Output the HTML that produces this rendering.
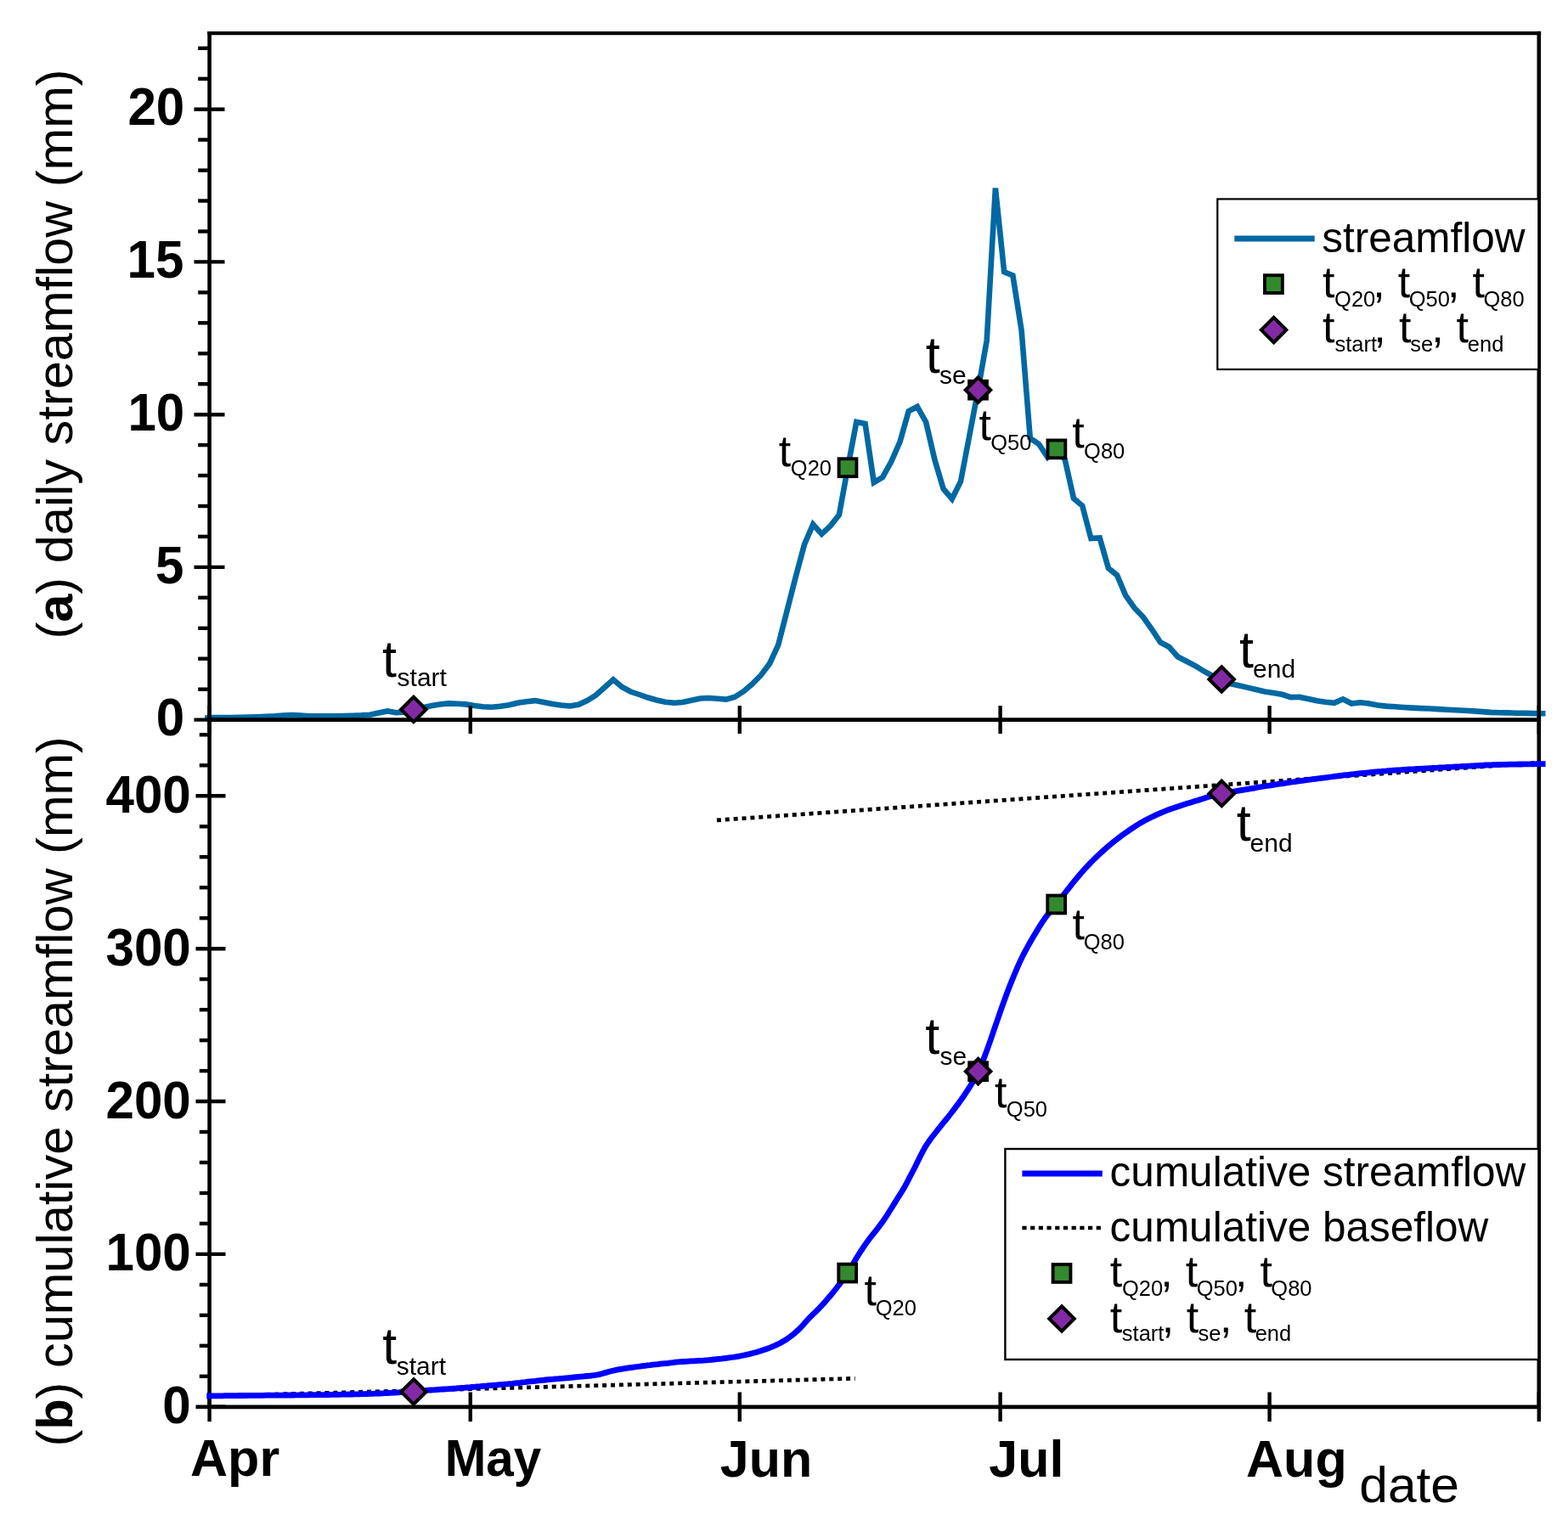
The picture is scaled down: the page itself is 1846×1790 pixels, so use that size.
<!DOCTYPE html>
<html><head><meta charset="utf-8"><title>streamflow</title>
<style>html,body{margin:0;padding:0;background:#fff;overflow:hidden;}svg{display:block;}</style>
</head><body>
<svg width="1846" height="1790" viewBox="0 0 1846 1790" font-family='"Liberation Sans", Arial, Helvetica, sans-serif'>
<rect width="1846" height="1790" fill="#fff"/>
<line x1="1811.8" y1="36.800000000000004" x2="1811.8" y2="1659.1" stroke="#000" stroke-width="4.6"/>
<polyline points="241.2,845.5 241.4,845.5 251.6,845.0 261.8,845.0 272.1,845.0 282.3,844.8 292.5,844.6 302.7,844.3 313.0,843.8 323.2,843.3 333.4,842.5 343.6,842.0 353.9,842.5 364.1,843.3 374.3,843.4 384.5,843.4 394.8,843.3 405.0,843.0 415.2,842.7 425.4,842.4 435.7,841.8 445.9,839.5 456.1,837.4 466.3,839.2 476.6,838.5 486.8,835.5 497.0,833.5 507.2,831.2 517.5,829.4 527.7,828.4 537.9,828.7 548.2,829.4 558.4,831.0 568.6,832.2 578.8,832.8 589.1,831.8 599.3,830.2 609.5,827.7 619.7,826.3 630.0,825.1 640.2,827.0 650.4,829.0 660.6,830.5 670.9,831.5 681.1,829.7 691.3,825.0 701.5,818.7 711.8,809.5 722.0,800.3 732.2,809.0 742.4,814.5 752.7,818.0 762.9,821.5 773.1,824.5 783.4,826.7 793.6,827.7 803.8,827.0 814.0,824.8 824.3,822.5 834.5,822.0 844.7,822.7 854.9,823.6 865.2,820.7 875.4,814.2 885.6,805.5 895.8,795.2 906.1,781.5 916.3,759.3 926.5,719.4 936.7,679.6 947.0,641.1 957.2,617.5 967.4,628.9 977.6,619.3 987.9,606.4 998.1,550.6 1008.3,496.9 1018.6,499.0 1028.8,568.1 1039.0,562.2 1049.2,543.8 1059.5,520.3 1069.7,484.3 1079.9,478.9 1090.1,496.9 1100.4,541.3 1110.6,575.6 1120.8,587.5 1131.0,567.0 1141.3,513.0 1151.5,459.2 1161.7,401.0 1171.9,221.5 1182.2,320.3 1192.4,324.4 1202.6,389.0 1212.8,516.0 1223.1,523.0 1233.3,538.5 1243.5,528.9 1253.7,541.0 1264.0,587.0 1274.2,595.5 1284.4,634.0 1294.7,633.5 1304.9,669.0 1315.1,677.4 1325.3,701.5 1335.6,716.0 1345.8,726.5 1356.0,741.0 1366.2,756.5 1376.5,762.0 1386.7,773.5 1396.9,778.7 1407.1,784.0 1417.4,790.5 1427.6,796.0 1437.8,800.0 1448.0,805.0 1458.3,807.3 1468.5,809.6 1478.7,812.0 1488.9,814.5 1499.2,816.0 1509.4,817.8 1519.6,821.1 1529.8,820.9 1540.1,823.0 1550.3,825.3 1560.5,826.7 1570.8,827.8 1581.0,823.3 1591.2,828.5 1601.4,827.3 1611.7,828.5 1621.9,830.5 1632.1,831.6 1642.3,832.3 1652.6,833.0 1662.8,833.6 1673.0,834.1 1683.2,834.5 1693.5,835.1 1703.7,835.7 1713.9,836.3 1724.1,836.8 1734.4,837.4 1744.6,838.1 1754.8,838.9 1765.0,839.2 1775.3,839.4 1785.5,839.7 1795.7,839.9 1806.0,840.1 1816.2,840.3 1819.5,840.3" fill="none" stroke="#0068a2" stroke-width="6.6" stroke-linejoin="miter" stroke-miterlimit="4"/>
<line x1="246.6" y1="37.0" x2="246.6" y2="1659.1" stroke="#000" stroke-width="4.6"/>
<line x1="244.29999999999998" y1="39.1" x2="1814.1" y2="39.1" stroke="#000" stroke-width="4.2"/>
<line x1="244.29999999999998" y1="847.6" x2="1814.1" y2="847.6" stroke="#000" stroke-width="4.7"/>
<line x1="244.29999999999998" y1="1656.8" x2="1814.1" y2="1656.8" stroke="#000" stroke-width="4.7"/>
<g stroke="#000" stroke-width="4.4"><line x1="228.5" y1="847.6" x2="264.5" y2="847.6"/><line x1="233.2" y1="811.7" x2="246.6" y2="811.7"/><line x1="233.2" y1="775.7" x2="246.6" y2="775.7"/><line x1="233.2" y1="739.8" x2="246.6" y2="739.8"/><line x1="233.2" y1="703.8" x2="246.6" y2="703.8"/><line x1="228.5" y1="667.9" x2="264.5" y2="667.9"/><line x1="233.2" y1="631.9" x2="246.6" y2="631.9"/><line x1="233.2" y1="596.0" x2="246.6" y2="596.0"/><line x1="233.2" y1="560.0" x2="246.6" y2="560.0"/><line x1="233.2" y1="524.1" x2="246.6" y2="524.1"/><line x1="228.5" y1="488.2" x2="264.5" y2="488.2"/><line x1="233.2" y1="452.2" x2="246.6" y2="452.2"/><line x1="233.2" y1="416.3" x2="246.6" y2="416.3"/><line x1="233.2" y1="380.3" x2="246.6" y2="380.3"/><line x1="233.2" y1="344.4" x2="246.6" y2="344.4"/><line x1="228.5" y1="308.4" x2="264.5" y2="308.4"/><line x1="233.2" y1="272.5" x2="246.6" y2="272.5"/><line x1="233.2" y1="236.5" x2="246.6" y2="236.5"/><line x1="233.2" y1="200.6" x2="246.6" y2="200.6"/><line x1="233.2" y1="164.6" x2="246.6" y2="164.6"/><line x1="228.5" y1="128.7" x2="264.5" y2="128.7"/><line x1="233.2" y1="92.8" x2="246.6" y2="92.8"/><line x1="233.2" y1="56.8" x2="246.6" y2="56.8"/><line x1="230.5" y1="1656.8" x2="265.5" y2="1656.8"/><line x1="234.8" y1="1620.8" x2="246.6" y2="1620.8"/><line x1="234.8" y1="1584.8" x2="246.6" y2="1584.8"/><line x1="234.8" y1="1548.9" x2="246.6" y2="1548.9"/><line x1="234.8" y1="1512.9" x2="246.6" y2="1512.9"/><line x1="230.5" y1="1476.9" x2="265.5" y2="1476.9"/><line x1="234.8" y1="1440.9" x2="246.6" y2="1440.9"/><line x1="234.8" y1="1405.0" x2="246.6" y2="1405.0"/><line x1="234.8" y1="1369.0" x2="246.6" y2="1369.0"/><line x1="234.8" y1="1333.0" x2="246.6" y2="1333.0"/><line x1="230.5" y1="1297.0" x2="265.5" y2="1297.0"/><line x1="234.8" y1="1261.1" x2="246.6" y2="1261.1"/><line x1="234.8" y1="1225.1" x2="246.6" y2="1225.1"/><line x1="234.8" y1="1189.1" x2="246.6" y2="1189.1"/><line x1="234.8" y1="1153.1" x2="246.6" y2="1153.1"/><line x1="230.5" y1="1117.2" x2="265.5" y2="1117.2"/><line x1="234.8" y1="1081.2" x2="246.6" y2="1081.2"/><line x1="234.8" y1="1045.2" x2="246.6" y2="1045.2"/><line x1="234.8" y1="1009.2" x2="246.6" y2="1009.2"/><line x1="234.8" y1="973.3" x2="246.6" y2="973.3"/><line x1="230.5" y1="937.3" x2="265.5" y2="937.3"/><line x1="234.8" y1="901.3" x2="246.6" y2="901.3"/><line x1="234.8" y1="865.3" x2="246.6" y2="865.3"/><line x1="246.6" y1="831.1" x2="246.6" y2="864.1"/><line x1="246.6" y1="1639.5" x2="246.6" y2="1674.1"/><line x1="553.8" y1="831.1" x2="553.8" y2="864.1"/><line x1="553.8" y1="1639.5" x2="553.8" y2="1674.1"/><line x1="870.8" y1="831.1" x2="870.8" y2="864.1"/><line x1="870.8" y1="1639.5" x2="870.8" y2="1674.1"/><line x1="1177.6" y1="831.1" x2="1177.6" y2="864.1"/><line x1="1177.6" y1="1639.5" x2="1177.6" y2="1674.1"/><line x1="1494.6" y1="831.1" x2="1494.6" y2="864.1"/><line x1="1494.6" y1="1639.5" x2="1494.6" y2="1674.1"/><line x1="1811.8" y1="831.1" x2="1811.8" y2="864.1"/><line x1="1811.8" y1="1639.5" x2="1811.8" y2="1674.1"/></g>
<line x1="244" y1="1644.2" x2="1006.7" y2="1623.3" stroke="#000" stroke-width="4.7" stroke-dasharray="5 4.9"/>
<line x1="843.9" y1="965.9" x2="1812" y2="898.2" stroke="#000" stroke-width="4.7" stroke-dasharray="5 4.9"/>
<polyline points="243.3,1644.0 246.3,1644.0 249.3,1643.9 252.3,1643.9 255.3,1643.9 258.3,1643.8 261.3,1643.8 264.3,1643.7 267.3,1643.7 270.3,1643.7 273.3,1643.6 276.3,1643.6 279.3,1643.6 282.3,1643.5 285.3,1643.5 288.3,1643.5 291.3,1643.4 294.3,1643.4 297.3,1643.4 300.3,1643.3 303.3,1643.3 306.3,1643.3 309.3,1643.3 312.3,1643.2 315.3,1643.2 318.3,1643.2 321.3,1643.2 324.3,1643.1 327.3,1643.1 330.3,1643.1 333.3,1643.1 336.3,1643.0 339.3,1643.0 342.3,1643.0 345.3,1643.0 348.3,1642.9 351.3,1642.9 354.3,1642.9 357.3,1642.8 360.3,1642.8 363.3,1642.8 366.3,1642.7 369.3,1642.7 372.3,1642.7 375.3,1642.6 378.3,1642.6 381.3,1642.6 384.3,1642.5 387.3,1642.5 390.3,1642.4 393.3,1642.4 396.3,1642.3 399.3,1642.3 402.3,1642.2 405.3,1642.2 408.3,1642.1 411.3,1642.0 414.3,1642.0 417.3,1641.9 420.3,1641.8 423.3,1641.8 426.3,1641.7 429.3,1641.6 432.3,1641.5 435.3,1641.4 438.3,1641.3 441.3,1641.2 444.3,1641.1 447.3,1641.0 450.3,1640.8 453.3,1640.7 456.3,1640.5 459.3,1640.4 462.3,1640.2 465.3,1640.1 468.3,1639.9 471.3,1639.7 474.3,1639.5 477.3,1639.3 480.3,1639.1 483.3,1638.9 486.3,1638.7 489.3,1638.5 492.3,1638.3 495.3,1638.0 498.3,1637.7 501.3,1637.5 504.3,1637.2 507.3,1637.0 510.3,1636.8 513.3,1636.6 516.3,1636.4 519.3,1636.2 522.3,1636.0 525.3,1635.8 528.3,1635.6 531.3,1635.4 534.3,1635.2 537.3,1635.0 540.3,1634.7 543.3,1634.5 546.3,1634.3 549.3,1634.0 552.3,1633.8 555.3,1633.5 558.3,1633.3 561.3,1633.0 564.3,1632.8 567.3,1632.5 570.3,1632.2 573.3,1632.0 576.3,1631.7 579.3,1631.5 582.3,1631.2 585.3,1631.0 588.3,1630.7 591.3,1630.4 594.3,1630.1 597.3,1629.9 600.3,1629.6 603.3,1629.3 606.3,1628.9 609.3,1628.6 612.3,1628.3 615.3,1627.9 618.3,1627.6 621.3,1627.2 624.3,1626.9 627.3,1626.6 630.3,1626.3 633.3,1625.9 636.3,1625.6 639.3,1625.3 642.3,1625.0 645.3,1624.7 648.3,1624.4 651.3,1624.2 654.3,1623.9 657.3,1623.7 660.3,1623.4 663.3,1623.2 666.3,1622.9 669.3,1622.6 672.3,1622.3 675.3,1622.0 678.3,1621.7 681.3,1621.4 684.3,1621.1 687.3,1620.8 690.3,1620.5 693.3,1620.3 696.3,1620.0 699.3,1619.6 702.3,1619.2 705.3,1618.6 708.3,1617.8 711.3,1616.9 714.3,1616.1 717.3,1615.3 720.3,1614.5 723.3,1613.8 726.3,1613.2 729.3,1612.6 732.3,1612.1 735.3,1611.6 738.3,1611.2 741.3,1610.7 744.3,1610.3 747.3,1609.9 750.3,1609.5 753.3,1609.1 756.3,1608.7 759.3,1608.3 762.3,1607.9 765.3,1607.6 768.3,1607.2 771.3,1606.9 774.3,1606.6 777.3,1606.2 780.3,1605.9 783.3,1605.6 786.3,1605.3 789.3,1604.9 792.3,1604.6 795.3,1604.2 798.3,1603.9 801.3,1603.7 804.3,1603.5 807.3,1603.3 810.3,1603.1 813.3,1602.9 816.3,1602.8 819.3,1602.6 822.3,1602.4 825.3,1602.3 828.3,1602.1 831.3,1601.8 834.3,1601.6 837.3,1601.3 840.3,1601.0 843.3,1600.7 846.3,1600.4 849.3,1600.1 852.3,1599.7 855.3,1599.3 858.3,1598.9 861.3,1598.5 864.3,1598.1 867.3,1597.6 870.3,1597.1 873.3,1596.5 876.3,1595.9 879.3,1595.2 882.3,1594.6 885.3,1593.8 888.3,1593.0 891.3,1592.2 894.3,1591.3 897.3,1590.3 900.3,1589.3 903.3,1588.2 906.3,1587.1 909.3,1585.9 912.3,1584.6 915.3,1583.2 918.3,1581.7 921.3,1580.0 924.3,1578.3 927.3,1576.3 930.3,1574.2 933.3,1571.8 936.3,1569.3 939.3,1566.6 942.3,1563.8 945.3,1560.5 948.3,1557.1 951.3,1553.7 954.3,1550.6 957.3,1547.6 960.3,1544.7 963.3,1541.8 966.3,1538.7 969.3,1535.4 972.3,1532.0 975.3,1528.5 978.3,1525.0 981.3,1521.3 984.3,1517.5 987.3,1513.7 990.3,1509.7 993.3,1505.6 996.3,1501.3 999.3,1496.7 1002.3,1491.8 1005.3,1486.6 1008.3,1481.5 1011.3,1476.7 1014.3,1472.1 1017.3,1467.6 1020.3,1463.3 1023.3,1459.2 1026.3,1455.4 1029.3,1451.6 1032.3,1447.8 1035.3,1443.9 1038.3,1439.9 1041.3,1435.6 1044.3,1431.1 1047.3,1426.3 1050.3,1421.5 1053.3,1416.6 1056.3,1411.8 1059.3,1407.1 1062.3,1402.3 1065.3,1397.2 1068.3,1391.6 1071.3,1385.8 1074.3,1380.0 1077.3,1374.2 1080.3,1368.1 1083.3,1362.0 1086.3,1356.1 1089.3,1350.7 1092.3,1346.0 1095.3,1341.7 1098.3,1337.8 1101.3,1334.0 1104.3,1330.2 1107.3,1326.4 1110.3,1322.7 1113.3,1319.0 1116.3,1315.3 1119.3,1311.5 1122.3,1307.6 1125.3,1303.6 1128.3,1299.6 1131.3,1295.5 1134.3,1291.2 1137.3,1286.7 1140.3,1282.1 1143.3,1277.3 1146.3,1272.0 1149.3,1266.4 1152.3,1260.2 1155.3,1253.6 1158.3,1246.4 1161.3,1238.5 1164.3,1230.1 1167.3,1221.5 1170.3,1212.7 1173.3,1204.0 1176.3,1195.4 1179.3,1186.7 1182.3,1178.3 1185.3,1170.1 1188.3,1162.3 1191.3,1154.7 1194.3,1147.5 1197.3,1140.4 1200.3,1133.6 1203.3,1127.3 1206.3,1121.4 1209.3,1115.8 1212.3,1110.5 1215.3,1105.3 1218.3,1100.2 1221.3,1095.2 1224.3,1090.3 1227.3,1085.7 1230.3,1081.3 1233.3,1077.2 1236.3,1073.6 1239.3,1070.1 1242.3,1066.5 1245.3,1062.8 1248.3,1058.9 1251.3,1054.9 1254.3,1051.0 1257.3,1047.1 1260.3,1043.3 1263.3,1039.5 1266.3,1035.8 1269.3,1032.2 1272.3,1028.7 1275.3,1025.3 1278.3,1022.0 1281.3,1018.8 1284.3,1015.7 1287.3,1012.7 1290.3,1009.8 1293.3,1006.9 1296.3,1004.1 1299.3,1001.4 1302.3,998.7 1305.3,996.2 1308.3,993.7 1311.3,991.2 1314.3,988.8 1317.3,986.5 1320.3,984.3 1323.3,982.1 1326.3,980.0 1329.3,977.9 1332.3,975.8 1335.3,973.8 1338.3,971.9 1341.3,970.0 1344.3,968.3 1347.3,966.6 1350.3,965.0 1353.3,963.5 1356.3,962.0 1359.3,960.6 1362.3,959.2 1365.3,957.9 1368.3,956.6 1371.3,955.4 1374.3,954.2 1377.3,953.0 1380.3,951.9 1383.3,950.9 1386.3,949.9 1389.3,948.9 1392.3,947.9 1395.3,947.0 1398.3,946.1 1401.3,945.2 1404.3,944.3 1407.3,943.3 1410.3,942.4 1413.3,941.4 1416.3,940.5 1419.3,939.5 1422.3,938.6 1425.3,937.7 1428.3,936.8 1431.3,936.0 1434.3,935.3 1437.3,934.6 1440.3,934.0 1443.3,933.5 1446.3,933.0 1449.3,932.5 1452.3,932.1 1455.3,931.7 1458.3,931.2 1461.3,930.7 1464.3,930.2 1467.3,929.7 1470.3,929.2 1473.3,928.6 1476.3,928.1 1479.3,927.5 1482.3,927.0 1485.3,926.5 1488.3,926.0 1491.3,925.5 1494.3,925.1 1497.3,924.6 1500.3,924.1 1503.3,923.7 1506.3,923.2 1509.3,922.8 1512.3,922.3 1515.3,921.9 1518.3,921.4 1521.3,921.0 1524.3,920.6 1527.3,920.2 1530.3,919.7 1533.3,919.3 1536.3,918.9 1539.3,918.5 1542.3,918.1 1545.3,917.7 1548.3,917.3 1551.3,916.9 1554.3,916.5 1557.3,916.2 1560.3,915.8 1563.3,915.4 1566.3,915.0 1569.3,914.6 1572.3,914.2 1575.3,913.8 1578.3,913.4 1581.3,913.0 1584.3,912.7 1587.3,912.4 1590.3,912.0 1593.3,911.7 1596.3,911.3 1599.3,911.0 1602.3,910.7 1605.3,910.4 1608.3,910.1 1611.3,909.8 1614.3,909.5 1617.3,909.2 1620.3,908.9 1623.3,908.6 1626.3,908.4 1629.3,908.1 1632.3,907.9 1635.3,907.6 1638.3,907.4 1641.3,907.2 1644.3,907.0 1647.3,906.8 1650.3,906.6 1653.3,906.4 1656.3,906.2 1659.3,906.0 1662.3,905.8 1665.3,905.7 1668.3,905.5 1671.3,905.3 1674.3,905.1 1677.3,905.0 1680.3,904.8 1683.3,904.6 1686.3,904.5 1689.3,904.3 1692.3,904.2 1695.3,904.0 1698.3,903.8 1701.3,903.7 1704.3,903.5 1707.3,903.3 1710.3,903.2 1713.3,903.0 1716.3,902.8 1719.3,902.7 1722.3,902.5 1725.3,902.3 1728.3,902.1 1731.3,902.0 1734.3,901.8 1737.3,901.6 1740.3,901.5 1743.3,901.3 1746.3,901.2 1749.3,901.0 1752.3,900.9 1755.3,900.8 1758.3,900.7 1761.3,900.6 1764.3,900.5 1767.3,900.4 1770.3,900.4 1773.3,900.3 1776.3,900.2 1779.3,900.2 1782.3,900.1 1785.3,900.1 1788.3,900.0 1791.3,900.0 1794.3,899.9 1797.3,899.9 1800.3,899.8 1803.3,899.8 1806.3,899.8 1809.3,899.7 1812.3,899.7 1815.3,899.7 1818.3,899.7 1819.6,899.7" fill="none" stroke="#0000ff" stroke-width="6.8" stroke-linejoin="round"/>
<rect x="987.60" y="540.30" width="20.8" height="20.8" fill="#338a2e" stroke="#000" stroke-width="3.9"/>
<rect x="1141.10" y="448.80" width="20.8" height="20.8" fill="#338a2e" stroke="#000" stroke-width="3.9"/>
<rect x="1233.50" y="518.50" width="20.8" height="20.8" fill="#338a2e" stroke="#000" stroke-width="3.9"/>
<rect x="987.30" y="1488.70" width="20.8" height="20.8" fill="#338a2e" stroke="#000" stroke-width="3.9"/>
<rect x="1141.20" y="1251.30" width="20.8" height="20.8" fill="#338a2e" stroke="#000" stroke-width="3.9"/>
<rect x="1233.30" y="1054.60" width="20.8" height="20.8" fill="#338a2e" stroke="#000" stroke-width="3.9"/>
<path d="M486.90,820.80L501.60,835.50L486.90,850.20L472.20,835.50Z" fill="#8429a6" stroke="#000" stroke-width="4.1"/>
<path d="M1151.50,444.50L1166.20,459.20L1151.50,473.90L1136.80,459.20Z" fill="#8429a6" stroke="#000" stroke-width="4.1"/>
<path d="M1438.20,785.30L1452.90,800.00L1438.20,814.70L1423.50,800.00Z" fill="#8429a6" stroke="#000" stroke-width="4.1"/>
<path d="M487.00,1624.30L501.70,1639.00L487.00,1653.70L472.30,1639.00Z" fill="#8429a6" stroke="#000" stroke-width="4.1"/>
<path d="M1151.60,1247.00L1166.30,1261.70L1151.60,1276.40L1136.90,1261.70Z" fill="#8429a6" stroke="#000" stroke-width="4.1"/>
<path d="M1438.30,919.70L1453.00,934.40L1438.30,949.10L1423.60,934.40Z" fill="#8429a6" stroke="#000" stroke-width="4.1"/>
<text x="150.42" y="147.47" font-size="63" font-weight="bold" textLength="66.92" lengthAdjust="spacingAndGlyphs">20</text>
<text x="149.52" y="327.20" font-size="63" font-weight="bold" textLength="66.92" lengthAdjust="spacingAndGlyphs">15</text>
<text x="150.42" y="506.92" font-size="63" font-weight="bold" textLength="66.92" lengthAdjust="spacingAndGlyphs">10</text>
<text x="182.91" y="686.64" font-size="63" font-weight="bold" textLength="33.46" lengthAdjust="spacingAndGlyphs">5</text>
<text x="183.82" y="866.37" font-size="63" font-weight="bold" textLength="33.46" lengthAdjust="spacingAndGlyphs">0</text>
<text x="124.43" y="956.85" font-size="63" font-weight="bold" textLength="100.39" lengthAdjust="spacingAndGlyphs">400</text>
<text x="124.43" y="1136.73" font-size="63" font-weight="bold" textLength="100.39" lengthAdjust="spacingAndGlyphs">300</text>
<text x="124.43" y="1316.61" font-size="63" font-weight="bold" textLength="100.39" lengthAdjust="spacingAndGlyphs">200</text>
<text x="124.43" y="1496.49" font-size="63" font-weight="bold" textLength="100.39" lengthAdjust="spacingAndGlyphs">100</text>
<text x="191.22" y="1676.37" font-size="63" font-weight="bold" textLength="33.46" lengthAdjust="spacingAndGlyphs">0</text>
<text x="224.07" y="1738.20" font-size="61" font-weight="bold">Apr</text>
<text x="523.70" y="1738.40" font-size="61" font-weight="bold" textLength="113.61" lengthAdjust="spacingAndGlyphs">May</text>
<text x="847.79" y="1739.00" font-size="61" font-weight="bold">Jun</text>
<text x="1164.29" y="1739.00" font-size="61" font-weight="bold">Jul</text>
<text x="1467.07" y="1738.60" font-size="61" font-weight="bold">Aug</text>
<text x="1600.28" y="1769.30" font-size="59" textLength="117.72" lengthAdjust="spacingAndGlyphs">date</text>
<text transform="translate(85,752.57) rotate(-90)" font-size="59.5">(<tspan font-weight="bold">a</tspan>) daily streamflow (mm)</text>
<text transform="translate(85,1703.57) rotate(-90)" font-size="59.5">(<tspan font-weight="bold">b</tspan>) cumulative streamflow (mm)</text>
<text x="450.08" y="796.59" font-size="61">t</text><text x="467.60" y="807.60" font-size="30">start</text>
<text x="1459.09" y="785.79" font-size="61">t</text><text x="1475.10" y="798.30" font-size="30">end</text>
<text x="1089.68" y="439.39" font-size="61">t</text><text x="1105.90" y="452.00" font-size="30">se</text>
<text x="916.82" y="548.78" font-size="52">t</text><text x="930.85" y="559.60" font-size="25.5">Q20</text>
<text x="1152.42" y="518.38" font-size="52">t</text><text x="1166.15" y="530.00" font-size="25.5">Q50</text>
<text x="1262.32" y="527.48" font-size="52">t</text><text x="1276.05" y="540.40" font-size="25.5">Q80</text>
<text x="450.19" y="1606.29" font-size="61">t</text><text x="466.70" y="1618.80" font-size="30">start</text>
<text x="1089.18" y="1240.89" font-size="61">t</text><text x="1106.40" y="1253.80" font-size="30">se</text>
<text x="1455.68" y="990.09" font-size="61">t</text><text x="1471.60" y="1002.70" font-size="30">end</text>
<text x="1017.52" y="1536.78" font-size="52">t</text><text x="1030.65" y="1548.70" font-size="25.5">Q20</text>
<text x="1171.12" y="1304.28" font-size="52">t</text><text x="1184.85" y="1314.90" font-size="25.5">Q50</text>
<text x="1262.62" y="1106.08" font-size="52">t</text><text x="1275.75" y="1118.00" font-size="25.5">Q80</text>
<rect x="1433.3" y="234.4" width="378" height="200.6" fill="#fff" stroke="#000" stroke-width="2.2"/>
<line x1="1453.3" y1="281" x2="1547.7" y2="281" stroke="#0068a2" stroke-width="7"/>
<text x="1556.22" y="296.60" font-size="49.5">streamflow</text>
<rect x="1489.00" y="324.20" width="20.8" height="20.8" fill="#338a2e" stroke="#000" stroke-width="3.9"/>
<path d="M1499.60,373.90L1514.30,388.60L1499.60,403.30L1484.90,388.60Z" fill="#8429a6" stroke="#000" stroke-width="4.1"/>
<text x="1556.92" y="350.20" font-size="52">t</text><text x="1571.05" y="361.00" font-size="25.5">Q20</text><text x="1616.32" y="350.20" font-size="52">,</text><text x="1645.82" y="350.20" font-size="52">t</text><text x="1658.75" y="361.00" font-size="25.5">Q50</text><text x="1704.12" y="350.20" font-size="52">,</text><text x="1733.52" y="350.20" font-size="52">t</text><text x="1746.45" y="361.00" font-size="25.5">Q80</text>
<text x="1556.92" y="403.30" font-size="52">t</text><text x="1571.43" y="414.10" font-size="25.5">start</text><text x="1617.32" y="403.30" font-size="52">,</text><text x="1646.92" y="403.30" font-size="52">t</text><text x="1660.23" y="414.10" font-size="25.5">se</text><text x="1685.22" y="403.30" font-size="52">,</text><text x="1714.62" y="403.30" font-size="52">t</text><text x="1727.78" y="414.10" font-size="25.5">end</text>
<rect x="1183.4" y="1353" width="628" height="248" fill="#fff" stroke="#000" stroke-width="2.4"/>
<line x1="1203.4" y1="1382" x2="1297.8" y2="1382" stroke="#0000ff" stroke-width="7"/>
<line x1="1203.4" y1="1446" x2="1297.8" y2="1446" stroke="#000" stroke-width="4.7" stroke-dasharray="5.2 4.5"/>
<text x="1306.62" y="1397.20" font-size="49.5">cumulative streamflow</text>
<text x="1306.62" y="1461.60" font-size="49.5">cumulative baseflow</text>
<rect x="1239.60" y="1489.10" width="20.8" height="20.8" fill="#338a2e" stroke="#000" stroke-width="3.9"/>
<path d="M1250.00,1538.30L1264.70,1553.00L1250.00,1567.70L1235.30,1553.00Z" fill="#8429a6" stroke="#000" stroke-width="4.1"/>
<text x="1306.82" y="1515.20" font-size="52">t</text><text x="1320.95" y="1526.00" font-size="25.5">Q20</text><text x="1366.32" y="1515.20" font-size="52">,</text><text x="1395.72" y="1515.20" font-size="52">t</text><text x="1408.65" y="1526.00" font-size="25.5">Q50</text><text x="1454.02" y="1515.20" font-size="52">,</text><text x="1483.42" y="1515.20" font-size="52">t</text><text x="1496.35" y="1526.00" font-size="25.5">Q80</text>
<text x="1306.82" y="1569.30" font-size="52">t</text><text x="1320.83" y="1579.00" font-size="25.5">start</text><text x="1367.82" y="1569.30" font-size="52">,</text><text x="1396.82" y="1569.30" font-size="52">t</text><text x="1410.43" y="1579.00" font-size="25.5">se</text><text x="1436.12" y="1569.30" font-size="52">,</text><text x="1464.72" y="1569.30" font-size="52">t</text><text x="1477.68" y="1579.00" font-size="25.5">end</text>
</svg>
</body></html>
